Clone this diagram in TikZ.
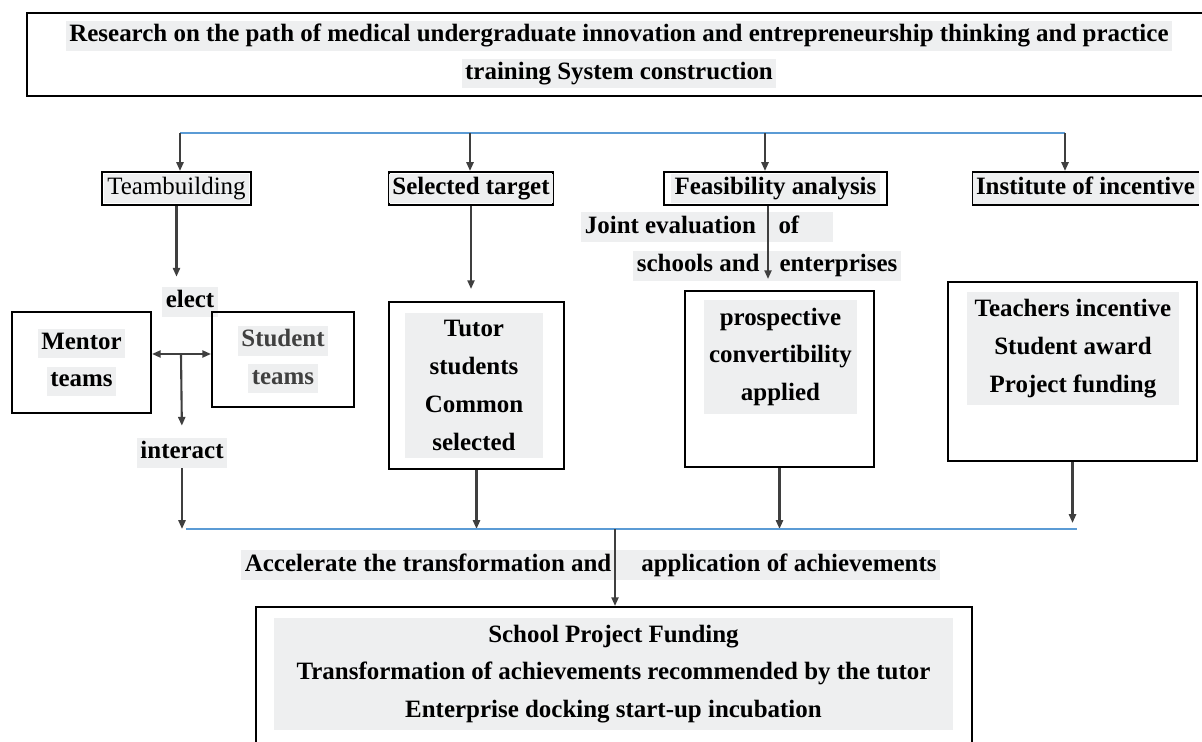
\documentclass[tikz,border=0pt]{standalone}
\usepackage{fontspec}
\setmainfont{Liberation Serif}
\usetikzlibrary{arrows.meta}
\definecolor{hlgray}{HTML}{EEEFF0}
\definecolor{busblue}{HTML}{5B9BD5}
\definecolor{arrgray}{HTML}{3F3F3F}
% grey highlight behind a line of text
\newcommand{\hl}[1]{{\setlength{\fboxsep}{2pt}\colorbox{hlgray}{\vphantom{Tg}#1}}}
\tikzset{
    box/.style={draw, line width=1.1pt, inner sep=0pt},
    lbl/.style={inner sep=0pt, align=center, font=\fontsize{14.2}{21.5}\selectfont\bfseries},
    hlblock/.style={lbl, fill=hlgray},
    arr/.style={-{Triangle[length=5pt,width=4pt]}, draw=arrgray, line width=1.2pt},
    bus/.style={draw=busblue, line width=1.1pt}
}

\begin{document}
\begin{tikzpicture}[x=0.02cm, y=-0.02cm]
    \path[use as bounding box, clip] (0,0) rectangle (1202,742);
    % Title box (runs off the right edge)
    \node[box, lbl, minimum width=23.7cm, minimum height=1.66cm] (title) at (619,54.5)
        {\hl{Research on the path of medical undergraduate innovation and entrepreneurship thinking and practice}\\
         \hl{training System construction}};

    % Upper bus and its four branches
    \coordinate (busA) at (180,133);
    \coordinate (busB) at (470,133);
    \coordinate (busC) at (765,133);
    \coordinate (busD) at (1065,133);
    \draw[bus] (busA) -- (busD);

    % Second row boxes
    \node[box, lbl, minimum width=2.98cm, minimum height=0.66cm] (team) at (176.5,188.5) {\hl{\mdseries Teambuilding}};
    \node[box, lbl, minimum width=3.24cm, minimum height=0.66cm] (target) at (471,188.5) {\hl{Selected target}};
    \node[box, lbl, minimum width=4.46cm, minimum height=0.66cm] (feas) at (775.5,188.5) {\hl{Feasibility analysis}};
    \node[box, lbl, minimum width=4.5cm, minimum height=0.66cm] (inst) at (1085.5,188.5) {\hl{Institute of incentive}};
    \draw[arr] (busA) -- (busA |- team.north);
    \draw[arr] (busB) -- (busB |- target.north);
    \draw[arr] (busC) -- (busC |- feas.north);
    \draw[arr] (busD) -- (busD |- inst.north);

    % Team building branch
    \node[lbl] (elect) at (190,302) {\hl{elect}};
    \node[box, lbl, minimum width=2.78cm, minimum height=2.02cm] (mentor) at (81.5,362.5) {\hl{Mentor}\\\hl{teams}};
    \node[box, lbl, minimum width=2.84cm, minimum height=1.9cm] (student) at (283,359.5) {\hl{\color{black!75}Student}\\\hl{\color{black!75}teams}};
    \node[lbl] (interact) at (182,453) {\hl{interact}};
    \coordinate (ms) at (181,354);
    \draw[arr, shorten >=0.2cm] (team.south) -- (team.south |- elect.north);
    \draw[arr, {Triangle[length=5pt,width=4pt]}-{Triangle[length=5pt,width=4pt]}] (ms -| mentor.east) -- (ms -| student.west);
    \draw[arr, shorten >=0.24cm] (ms) -- (interact.north);

    % Selected target branch
    \node[box, minimum width=3.5cm, minimum height=3.34cm] (tutor) at (476.5,385.5) {};
    \node[hlblock, minimum width=2.76cm, minimum height=2.9cm] (tutortxt) at (474,385.5)
        {Tutor\\students\\Common\\selected};
    \draw[arr, shorten >=0.24cm] (target.south) -- (target.south |- tutor.north);

    % Feasibility analysis branch
    \node[lbl, anchor=west] (joint) at (581,227) {\hl{Joint evaluation\hspace{0.9em}of\hspace{1.2em}}};
    \node[lbl, anchor=west] (schools) at (633,266) {\hl{schools and\hspace{0.8em}enterprises}};
    \node[box, minimum width=3.78cm, minimum height=3.52cm] (prosp) at (779.5,379) {};
    \node[hlblock, minimum width=3.06cm, minimum height=2.28cm] (prosptxt) at (780.5,357)
        {prospective\\convertibility\\applied};
    \draw[arr, shorten >=0.22cm] ([xshift=-0.15cm]feas.south) -- ([xshift=-0.15cm]feas.south |- prosp.north);

    % Institute of incentive branch
    \node[box, minimum width=4.98cm, minimum height=3.58cm] (award) at (1072.5,371.5) {};
    \node[hlblock, minimum width=4.24cm, minimum height=2.26cm] (awardtxt) at (1073,348.5)
        {Teachers incentive\\Student award\\Project funding};

    % Lower bus
    \coordinate (lowA) at (186,529);
    \coordinate (lowB) at (1077,529);
    \coordinate (lowM) at (615,529);
    \draw[arr] (interact.south) -- (interact.south |- lowA);
    \draw[arr] (tutor.south) -- (tutor.south |- lowA);
    \draw[arr] (prosp.south) -- (prosp.south |- lowA);
    \draw[arr, shorten >=0.12cm] (award.south) -- (award.south |- lowA);
    \draw[bus] (lowA) -- (lowB);

    % Outcome box
    \node[lbl, anchor=west] (accel) at (241,565)
        {\hl{Accelerate the transformation and\hspace{1.2em}application of achievements}};
    \node[box, minimum width=14.32cm, minimum height=3cm] (result) at (614,682) {};
    \node[hlblock, minimum width=13.58cm, minimum height=2.24cm] (resulttxt) at (613.5,674)
        {School Project Funding\\Transformation of achievements recommended by the tutor\\Enterprise docking start-up incubation};
    \draw[arr] (lowM) -- (lowM |- result.north);
\end{tikzpicture}
\end{document}
